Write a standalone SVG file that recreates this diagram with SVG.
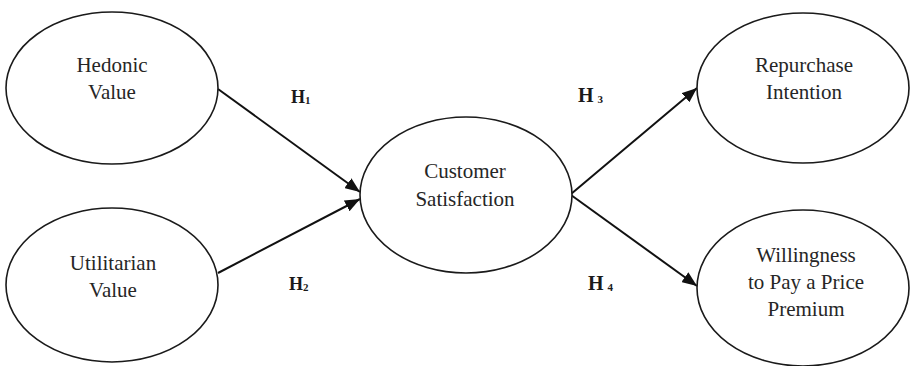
<svg xmlns="http://www.w3.org/2000/svg" width="911" height="366" viewBox="0 0 911 366">
<style>
.node ellipse{fill:#fff;stroke:#1a1a1a;stroke-width:1.6}
.lbl{font-family:"Liberation Serif","Times New Roman",serif;font-size:21px;fill:#262626;text-anchor:middle}
.h{font-family:"Liberation Serif","Times New Roman",serif;font-size:18px;font-weight:bold;fill:#1a1a1a}
.h2{font-size:20px}
.sub{font-size:11px}
.conn line{stroke:#111;stroke-width:2;marker-end:url(#ah)}
</style>
<defs>
<marker id="ah" markerUnits="userSpaceOnUse" markerWidth="16" markerHeight="12" refX="15" refY="6" orient="auto">
<path d="M0,0 L15,6 L0,12 Z" fill="#111"/>
</marker>
</defs>
<rect width="911" height="366" fill="#fff"/>
<g class="conn">
<line x1="218" y1="89" x2="360" y2="192"/>
<line x1="218" y1="273" x2="360" y2="199"/>
<line x1="571" y1="194" x2="697" y2="88"/>
<line x1="571" y1="195" x2="697" y2="286"/>
</g>
<g id="hedonic" class="node">
<ellipse cx="112" cy="88" rx="106" ry="76"/>
<text class="lbl" x="112" y="72">Hedonic</text>
<text class="lbl" x="112" y="99">Value</text>
</g>
<g id="utilitarian" class="node">
<ellipse cx="112" cy="285" rx="106" ry="77"/>
<text class="lbl" x="113" y="270">Utilitarian</text>
<text class="lbl" x="113" y="297">Value</text>
</g>
<g id="satisfaction" class="node">
<ellipse cx="466" cy="195" rx="106" ry="78"/>
<text class="lbl" x="465" y="178">Customer</text>
<text class="lbl" x="465" y="206">Satisfaction</text>
</g>
<g id="repurchase" class="node">
<ellipse cx="803" cy="88" rx="106" ry="75"/>
<text class="lbl" x="804" y="72">Repurchase</text>
<text class="lbl" x="804" y="99">Intention</text>
</g>
<g id="willingness" class="node">
<ellipse cx="803" cy="288" rx="106" ry="78"/>
<text class="lbl" x="806" y="262">Willingness</text>
<text class="lbl" x="806" y="289">to Pay a Price</text>
<text class="lbl" x="806" y="316">Premium</text>
</g>
<g id="labels">
<text class="h" x="291" y="103">H<tspan class="sub" dy="1">1</tspan></text>
<text class="h" x="289" y="290">H<tspan class="sub" dy="1">2</tspan></text>
<text class="h h2" x="578" y="102">H<tspan class="sub" dx="4" dy="1">3</tspan></text>
<text class="h h2" x="588" y="290">H<tspan class="sub" dx="4" dy="1">4</tspan></text>
</g>
</svg>
